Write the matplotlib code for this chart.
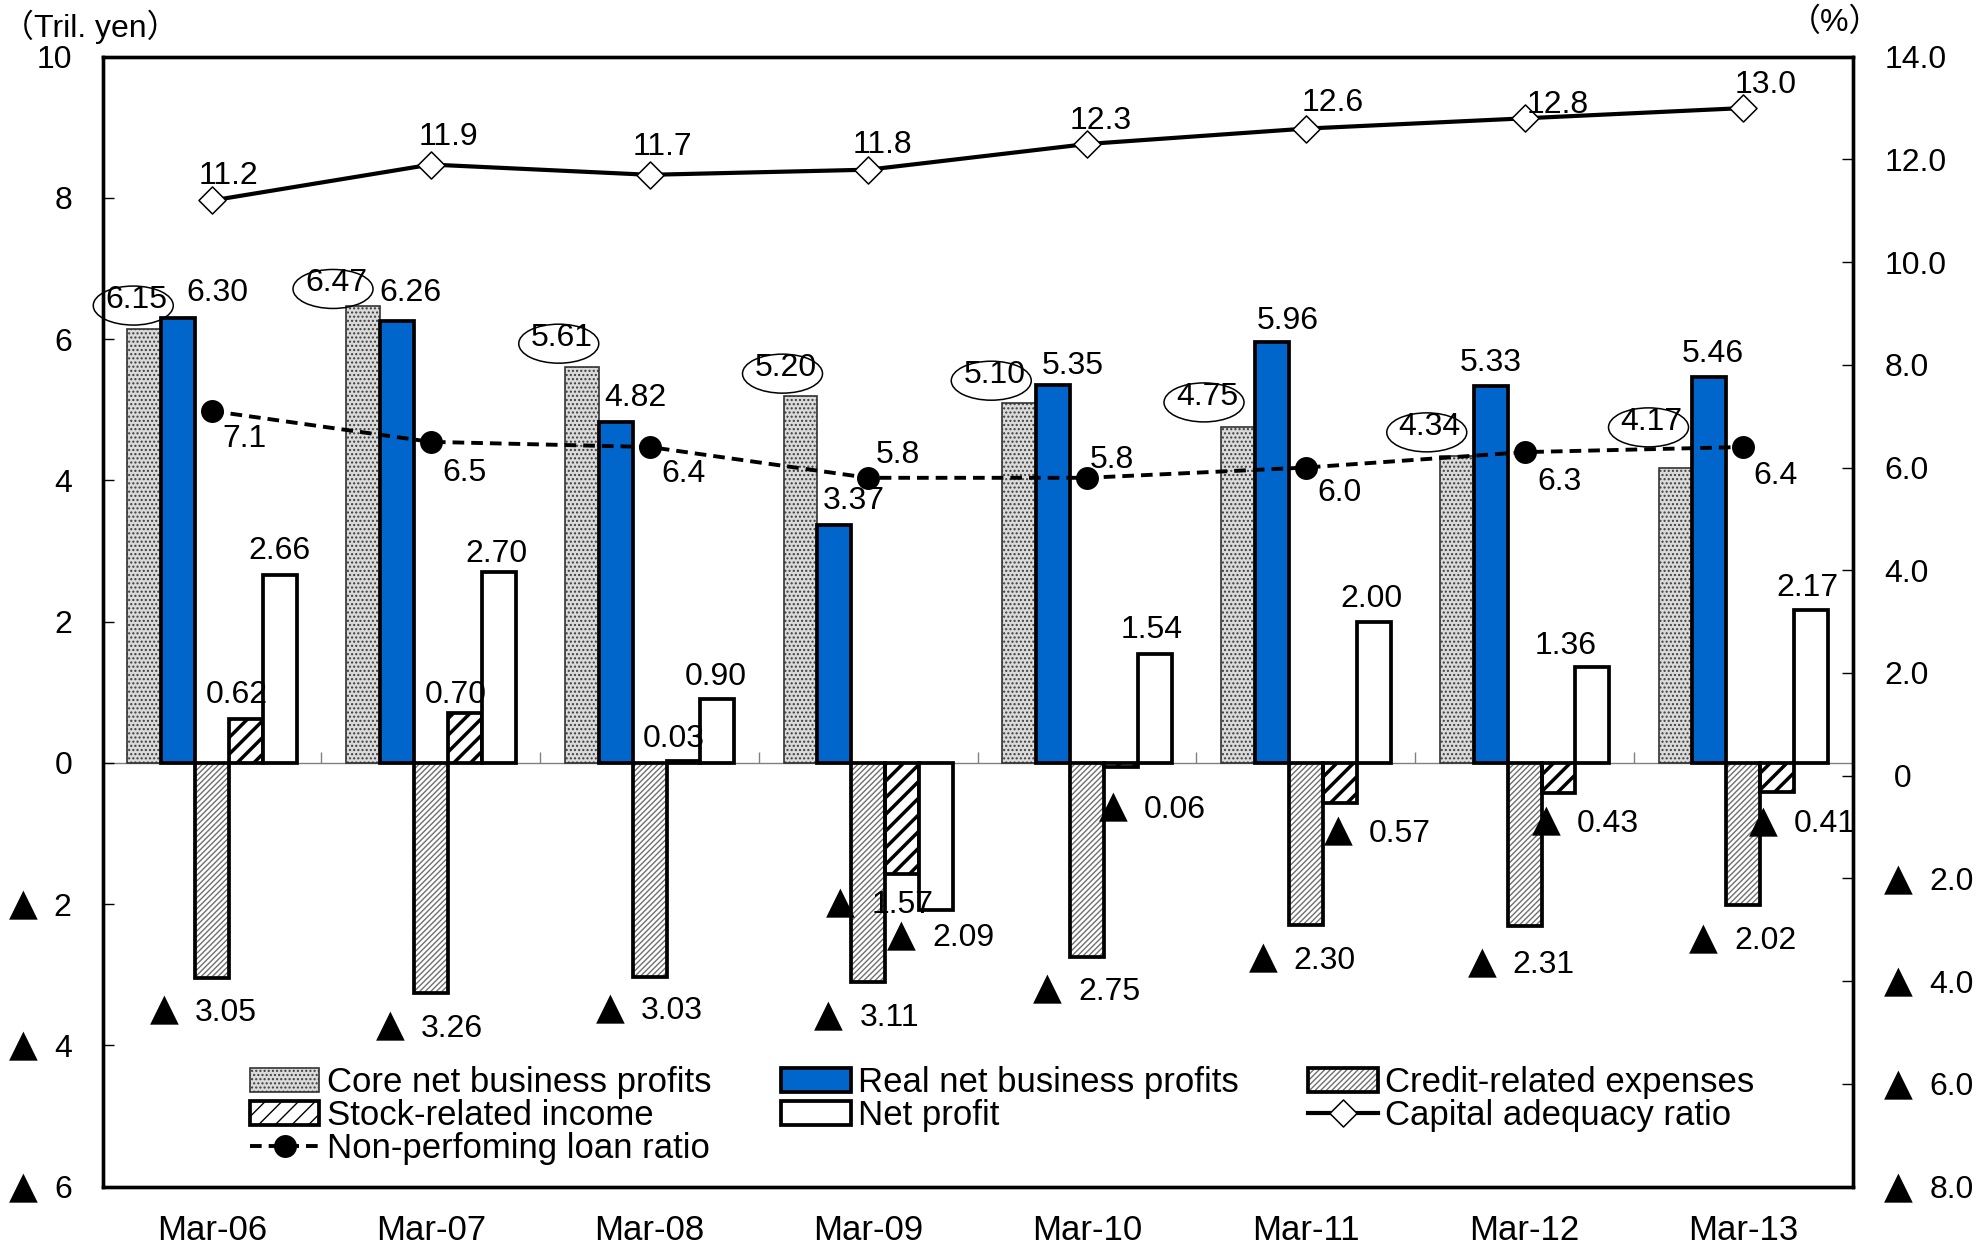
import matplotlib.pyplot as plt
import numpy as np
from matplotlib.path import Path
from matplotlib.patches import Ellipse
from matplotlib.transforms import ScaledTranslation
from matplotlib.ticker import FuncFormatter

plt.rcParams['font.family'] = ['Liberation Sans', 'DejaVu Sans', 'Noto Sans CJK JP']
plt.rcParams['hatch.linewidth'] = 1.0

periods = ['Mar-06', 'Mar-07', 'Mar-08', 'Mar-09', 'Mar-10', 'Mar-11', 'Mar-12', 'Mar-13']
core_profit = [6.15, 6.47, 5.61, 5.20, 5.10, 4.75, 4.34, 4.17]
real_profit = [6.30, 6.26, 4.82, 3.37, 5.35, 5.96, 5.33, 5.46]
credit_exp = [-3.05, -3.26, -3.03, -3.11, -2.75, -2.30, -2.31, -2.02]
stock_income = [0.62, 0.70, 0.03, -1.57, -0.06, -0.57, -0.43, -0.41]
net_profit = [2.66, 2.70, 0.90, -2.09, 1.54, 2.00, 1.36, 2.17]
capital_ratio = [11.2, 11.9, 11.7, 11.8, 12.3, 12.6, 12.8, 13.0]
npl_ratio = [7.1, 6.5, 6.4, 5.8, 5.8, 6.0, 6.3, 6.4]

# label nudges in pixels (dx, dy) from each mark, dy upwards
core_off = [(-8, 32), (-27, 26), (-20, 32), (-15, 31), (-25, 31), (-31, 34), (-27, 33), (-24, 50)]
real_off = [(39, 28), (14, 31), (20, 28), (19, 27), (20, 23), (16, 24), (0, 27), (3, 27)]
credit_off = [(-8, -31), (-1, -32), (0, -31), (0, -32), (0, -31), (-3, -32), (-3, -36), (0, -32)]
stock_off = [(-9, 28), (-9, 22), (-10, 25), (-22, -28), (32, -39), (38, -27), (27, -27), (26, -29)]
net_off = [(0, 27), (-2, 22), (-2, 26), (5, -24), (-3, 28), (-2, 26), (-27, 24), (-4, 25)]
cap_off = [(16, 28), (18, 31), (13, 31), (14, 28), (14, 27), (27, 29), (33, 17), (22, 27)]
npl_off = [(32, -24), (34, -28), (34, -24), (30, 26), (25, 21), (34, -22), (35, -26), (32, -26)]
ring_off = (-3, -9)

FS = 23
FS_BIG = 25
TRI_FS = 27
EDGE = 2.7
HALF_CAP = 11.5
TRI = '\u25b2'

fig = plt.figure(figsize=(19.83, 12.44), dpi=100)
ax = fig.add_axes([0.05179, 0.04622, 0.8825, 0.9082])
ax2 = ax.twinx()

x = np.arange(len(periods))
w = 0.155

core_fc, core_hc = '#dadada', '#3c3c3c'
credit_hc = '#707070'

# core net business profits: stippled, thin outline
ax.bar(x - 2 * w, core_profit, w, color=core_fc, edgecolor=core_hc, hatch='....', lw=0, zorder=2)
ax.bar(x - 2 * w, core_profit, w, fill=False, edgecolor='#333333', lw=1.2, zorder=3)
real_bars = ax.bar(x - w, real_profit, w, color='#0066cc', edgecolor='black', lw=EDGE, zorder=3)
with plt.rc_context({'hatch.linewidth': 1.0}):
    ax.bar(x, credit_exp, w, color='white', edgecolor=credit_hc, hatch='//////', lw=0, zorder=2)
ax.bar(x, credit_exp, w, fill=False, edgecolor='black', lw=EDGE, zorder=3)
with plt.rc_context({'hatch.linewidth': 2.5}):
    ax.bar(x + w, stock_income, w, color='white', edgecolor='black', hatch='//', lw=0, zorder=2)
ax.bar(x + w, stock_income, w, fill=False, edgecolor='black', lw=EDGE, zorder=3)
net_bars = ax.bar(x + 2 * w, net_profit, w, color='white', edgecolor='black', lw=EDGE, zorder=3)

ax.set_xlim(-0.5, len(periods) - 0.5)
ax.set_ylim(-6, 10)
ax.set_yticks(np.arange(-6, 11, 2))
ax.yaxis.set_major_formatter(FuncFormatter(lambda v, _: '' if v < 0 else f'{v:.0f}'))
ax.tick_params(axis='y', direction='in', length=8, width=1, labelsize=FS, pad=22)
ax.set_xticks(x)
ax.set_xticklabels(periods)
ax.tick_params(axis='x', length=0, labelsize=FS_BIG, pad=20)

# zero line with boundary ticks between periods
lo, hi = ax.get_ylim()
zax = ax.secondary_xaxis((0 - lo) / (hi - lo))
zax.set_xticks(x[:-1] + 0.5)
zax.set_xticklabels([])
zax.tick_params(direction='in', length=8, width=1, color='#808080')
for s in zax.spines.values():
    s.set_color('#808080')
    s.set_linewidth(1)

diamond = Path([(0, 1), (1, 0), (0, -1), (-1, 0), (0, 1)],
               [Path.MOVETO, Path.LINETO, Path.LINETO, Path.LINETO, Path.CLOSEPOLY])
cap_line, = ax2.plot(x, capital_ratio, color='black', lw=3.0, marker=diamond, ms=19.5,
                     mfc='white', mec='black', mew=1.1, zorder=4)
npl_line, = ax2.plot(x, npl_ratio, color='black', lw=2.8, ls=(0, (3, 1.8)), marker='o', ms=15.5,
                     mfc='black', mec='black', zorder=4)
ax2.set_ylim(-8, 14)
ax2.set_yticks(np.arange(-8, 15, 2))
ax2.yaxis.set_major_formatter(FuncFormatter(lambda v, _: '' if v < 0 else (' 0' if v == 0 else f'{v:.1f}')))
ax2.tick_params(axis='y', direction='in', length=8, width=1, labelsize=FS, pad=23)

for a in (ax, ax2):
    for s in a.spines.values():
        s.set_linewidth(2.4)

# negative tick labels: big triangle followed by the magnitude
for v in ax.get_yticks():
    if v < 0:
        tr = ax.get_yaxis_transform()
        ax.annotate(f'{-v:.0f}', (0, v), xycoords=tr, xytext=(-31, -HALF_CAP), textcoords='offset pixels',
                    ha='right', va='baseline', fontsize=FS, annotation_clip=False)
        ax.annotate(TRI, (0, v), xycoords=tr, xytext=(-65, -HALF_CAP), textcoords='offset pixels',
                    ha='right', va='baseline', fontsize=TRI_FS, family='DejaVu Sans', annotation_clip=False)
for v in ax2.get_yticks():
    if v < 0:
        tr = ax2.get_yaxis_transform()
        ax2.annotate(f'{-v:.1f}', (1, v), xycoords=tr, xytext=(77, -HALF_CAP), textcoords='offset pixels',
                     ha='left', va='baseline', fontsize=FS, annotation_clip=False)
        ax2.annotate(TRI, (1, v), xycoords=tr, xytext=(31, -HALF_CAP), textcoords='offset pixels',
                     ha='left', va='baseline', fontsize=TRI_FS, family='DejaVu Sans', annotation_clip=False)


def put(a, v, nd, xy, off):
    dx, base = off[0], off[1] - HALF_CAP
    kw = dict(textcoords='offset pixels', va='baseline', zorder=6, clip_on=True)
    if v < 0:
        a.annotate(TRI, xy, xytext=(dx - 54, base), ha='left', fontsize=TRI_FS,
                   family='DejaVu Sans', **kw)
        a.annotate(f'{-v:.{nd}f}', xy, xytext=(dx - 9, base), ha='left', fontsize=FS, **kw)
    else:
        a.annotate(f'{v:.{nd}f}', xy, xytext=(dx, base), ha='center', fontsize=FS, **kw)


# value labels
for i in range(len(periods)):
    xy = (x[i] - 2 * w, core_profit[i])
    put(ax, core_profit[i], 2, xy, core_off[i])
    ring = Ellipse((core_off[i][0] + ring_off[0], core_off[i][1] + ring_off[1]), 80, 39,
                   transform=ScaledTranslation(xy[0], xy[1], ax.transData),
                   fill=False, ec='black', lw=1.1, zorder=6, clip_on=False)
    ax.add_artist(ring)
    for vals, off, dx in ((real_profit, real_off, -w), (credit_exp, credit_off, 0),
                          (stock_income, stock_off, w), (net_profit, net_off, 2 * w)):
        put(ax, vals[i], 2, (x[i] + dx, vals[i]), off[i])
    put(ax2, capital_ratio[i], 1, (x[i], capital_ratio[i]), cap_off[i])
    put(ax2, npl_ratio[i], 1, (x[i], npl_ratio[i]), npl_off[i])

core_h = plt.Rectangle((0, 0), 1, 1, fc=core_fc, ec=core_hc, hatch='....', lw=0)
core_e = plt.Rectangle((0, 0), 1, 1, fill=False, ec='#333333', lw=1.2)
with plt.rc_context({'hatch.linewidth': 1.0}):
    credit_h = plt.Rectangle((0, 0), 1, 1, fc='white', ec=credit_hc, hatch='//////', lw=0)
credit_e = plt.Rectangle((0, 0), 1, 1, fill=False, ec='black', lw=EDGE)
with plt.rc_context({'hatch.linewidth': 2.5}):
    stock_h = plt.Rectangle((0, 0), 1, 1, fc='white', ec='black', hatch='//', lw=0)
stock_e = plt.Rectangle((0, 0), 1, 1, fill=False, ec='black', lw=EDGE)

handles = [(core_h, core_e), (stock_h, stock_e), npl_line, real_bars, net_bars,
           (credit_h, credit_e), cap_line]
labels = ['Core net business profits', 'Stock-related income', 'Non-perfoming loan ratio',
          'Real net business profits', 'Net profit', 'Credit-related expenses',
          'Capital adequacy ratio']
leg = ax2.legend(handles, labels, ncol=3, loc='upper left', bbox_to_anchor=(0.0842, 0.1063),
                 frameon=False, fontsize=FS_BIG, handlelength=2.0, handletextpad=0.22,
                 columnspacing=2.0, labelspacing=0.0, borderpad=0, borderaxespad=0)

fig.text(0.001, 0.9783, '（Tril. yen）', fontsize=FS, ha='left', va='center')
fig.text(0.9254, 0.9819, '（%）', fontsize=FS, ha='center', va='center')

fig.savefig('out.png', dpi=100)
